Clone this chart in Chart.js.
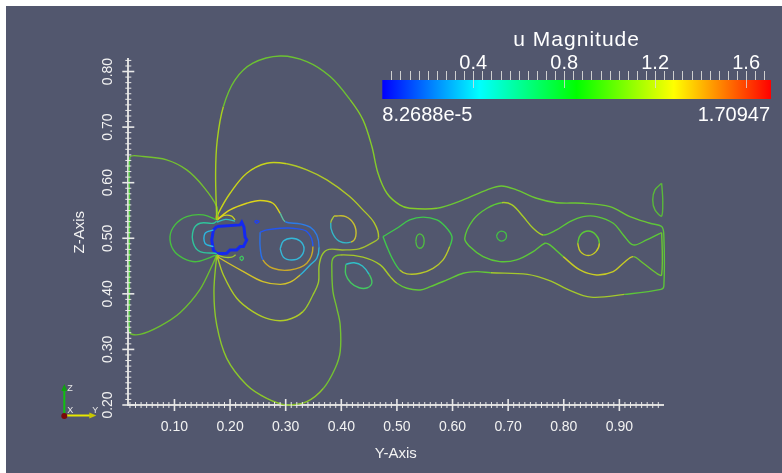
<!DOCTYPE html>
<html lang="en">
<head>
<meta charset="UTF-8" />
<title>u Magnitude contours</title>
<script src="https://cdn.jsdelivr.net/npm/chart.js@4.4.1/dist/chart.umd.min.js"></script>
<style>
  html, body { margin: 0; padding: 0; background: #ffffff; }
  #wrap { position: absolute; left: 6px; top: 6px; width: 776px; height: 467px; background: #52576e; }
</style>
</head>
<body>
<div id="wrap"><canvas id="myChart" width="776" height="467"></canvas></div>
<script>
// contour lines as [Y, Z] pairs
const bigLoop = [[0.176,0.533],[0.174,0.617],[0.177,0.677],[0.188,0.737],[0.209,0.785],[0.241,0.815],[0.290,0.828],[0.338,0.818],[0.380,0.791],[0.416,0.749],[0.439,0.713],[0.455,0.665],[0.466,0.617],[0.482,0.581],[0.505,0.560],[0.523,0.554],[0.572,0.554],[0.619,0.569],[0.662,0.587],[0.688,0.594],[0.715,0.587],[0.751,0.572],[0.787,0.564],[0.835,0.563],[0.883,0.557],[0.919,0.539],[0.955,0.527],[0.976,0.521],[0.980,0.504],[0.980,0.414],[0.975,0.408],[0.909,0.399],[0.849,0.394],[0.807,0.408],[0.777,0.423],[0.735,0.435],[0.669,0.438],[0.644,0.440],[0.619,0.437],[0.590,0.425],[0.560,0.413],[0.542,0.407],[0.518,0.410],[0.500,0.419],[0.488,0.431],[0.470,0.452],[0.439,0.466],[0.398,0.470],[0.385,0.464],[0.383,0.446],[0.385,0.404],[0.392,0.374],[0.398,0.344],[0.398,0.296],[0.389,0.266],[0.368,0.230],[0.338,0.206],[0.302,0.200],[0.266,0.212],[0.230,0.236],[0.194,0.284],[0.176,0.344],[0.171,0.404],[0.176,0.470]];
const axisLoop = [[0.176,0.533],[0.176,0.557],[0.152,0.593],[0.122,0.623],[0.086,0.641],[0.044,0.647],[0.020,0.646],[0.019,0.569],[0.019,0.389],[0.020,0.330],[0.038,0.327],[0.074,0.342],[0.110,0.366],[0.146,0.408],[0.170,0.456],[0.176,0.470]];
const secondLoop = [[0.176,0.533],[0.179,0.545],[0.200,0.581],[0.230,0.617],[0.266,0.635],[0.302,0.634],[0.338,0.623],[0.374,0.605],[0.414,0.576],[0.438,0.552],[0.459,0.528],[0.467,0.501],[0.456,0.492],[0.432,0.481],[0.402,0.479],[0.378,0.480],[0.366,0.471],[0.360,0.450],[0.359,0.421],[0.349,0.398],[0.331,0.368],[0.302,0.353],[0.272,0.354],[0.241,0.368],[0.212,0.392],[0.188,0.434],[0.176,0.470]];
const bubbleOuter = [[0.176,0.533],[0.200,0.551],[0.230,0.563],[0.254,0.568],[0.277,0.563],[0.290,0.545],[0.299,0.530],[0.326,0.526],[0.344,0.520],[0.356,0.506],[0.360,0.484],[0.356,0.464],[0.344,0.452],[0.326,0.434],[0.308,0.421],[0.290,0.417],[0.259,0.422],[0.224,0.440],[0.182,0.464],[0.176,0.470]];
const bubbleInner = [[0.254,0.511],[0.266,0.515],[0.290,0.518],[0.313,0.518],[0.338,0.512],[0.349,0.485],[0.338,0.455],[0.308,0.443],[0.277,0.446],[0.259,0.461],[0.254,0.485],[0.254,0.511]];
const bubbleCore = [[0.290,0.481],[0.296,0.495],[0.311,0.500],[0.326,0.495],[0.333,0.481],[0.326,0.466],[0.311,0.461],[0.296,0.466],[0.290,0.481]];
const leftOuter = [[0.176,0.533],[0.152,0.542],[0.122,0.539],[0.101,0.524],[0.092,0.503],[0.098,0.479],[0.116,0.464],[0.140,0.458],[0.176,0.470]];
const leftMid = [[0.176,0.531],[0.170,0.527],[0.146,0.527],[0.134,0.515],[0.134,0.491],[0.146,0.476],[0.173,0.473],[0.176,0.472]];
const leftInner = [[0.170,0.515],[0.155,0.509],[0.155,0.491],[0.170,0.485]];
const cylinder = [[0.176,0.521],[0.218,0.524],[0.221,0.529],[0.225,0.520],[0.227,0.502],[0.230,0.497],[0.224,0.485],[0.218,0.485],[0.212,0.479],[0.200,0.479],[0.194,0.473],[0.176,0.472],[0.170,0.479],[0.167,0.497],[0.170,0.515],[0.176,0.521]];
const ovalUpper = [[0.387,0.540],[0.408,0.539],[0.423,0.525],[0.426,0.504],[0.417,0.493],[0.396,0.495],[0.384,0.510],[0.381,0.528],[0.387,0.540]];
const ovalLower = [[0.408,0.453],[0.423,0.456],[0.438,0.450],[0.450,0.435],[0.455,0.420],[0.447,0.411],[0.432,0.411],[0.417,0.420],[0.408,0.435],[0.408,0.453]];
const eyeLoop = [[0.475,0.503],[0.500,0.518],[0.523,0.533],[0.547,0.538],[0.572,0.533],[0.587,0.521],[0.599,0.503],[0.595,0.485],[0.583,0.461],[0.565,0.446],[0.542,0.437],[0.518,0.436],[0.505,0.443],[0.493,0.461],[0.482,0.485],[0.475,0.503]];
const eyeCore1 = [[0.534,0.495],[0.536,0.504],[0.541,0.508],[0.547,0.504],[0.549,0.495],[0.547,0.486],[0.541,0.482],[0.536,0.486],[0.534,0.495]];
const eyeChain = [[0.973,0.509],[0.949,0.497],[0.925,0.488],[0.907,0.506],[0.889,0.527],[0.859,0.539],[0.835,0.539],[0.811,0.530],[0.787,0.515],[0.763,0.506],[0.745,0.518],[0.727,0.539],[0.707,0.560],[0.688,0.564],[0.662,0.554],[0.637,0.533],[0.622,0.500],[0.631,0.485],[0.655,0.467],[0.685,0.458],[0.715,0.461],[0.745,0.476],[0.766,0.491],[0.775,0.488],[0.799,0.467],[0.829,0.443],[0.859,0.434],[0.889,0.440],[0.907,0.455],[0.925,0.467],[0.943,0.455],[0.967,0.437],[0.976,0.434],[0.976,0.509],[0.973,0.509]];
const eyeCore2 = [[0.679,0.504],[0.682,0.510],[0.688,0.513],[0.695,0.510],[0.697,0.504],[0.695,0.498],[0.688,0.495],[0.682,0.498],[0.679,0.504]];
const eyeCore3 = [[0.825,0.491],[0.830,0.506],[0.844,0.513],[0.858,0.506],[0.864,0.491],[0.858,0.476],[0.844,0.469],[0.830,0.476],[0.825,0.491]];
const edgeLobe = [[0.976,0.599],[0.964,0.587],[0.960,0.569],[0.964,0.551],[0.976,0.540],[0.978,0.569],[0.976,0.599]];
const blueSpeck = [[0.244,0.530],[0.248,0.532],[0.252,0.530],[0.248,0.527],[0.244,0.530]];
const greenSpeck = [[0.217,0.464],[0.221,0.468],[0.224,0.464],[0.221,0.460],[0.217,0.464]];
const topArcA = [[0.176,0.533],[0.189,0.541],[0.203,0.540],[0.209,0.533]];
const topArcB = [[0.176,0.529],[0.192,0.534],[0.209,0.531]];
const bottomArc = [[0.176,0.470],[0.189,0.466],[0.203,0.466],[0.210,0.470]];
const hotTop = [[0.176,0.533],[0.177,0.541]];
const hotBottom = [[0.176,0.470],[0.177,0.462]];

// axis ticks
const yAxisMajor = [0.10, 0.20, 0.30, 0.40, 0.50, 0.60, 0.70, 0.80, 0.90];
const zAxisMajor = [0.20, 0.30, 0.40, 0.50, 0.60, 0.70, 0.80];
const yRange = [0.017, 0.979];
const zRange = [0.20, 0.822];

// colour legend
const cbTitle = "u Magnitude";
const cbMin = 8.2688e-5;
const cbMax = 1.70947;
const cbTicks = [0.4, 0.8, 1.2, 1.6];
const cbMinLabel = "8.2688e-5";
const cbMaxLabel = "1.70947";

// styles: [fromPointIndex, colour] stops, width, tension
const styles = [
  [bigLoop, [[0,'#a8d01e'],[3,'#6cc232'],[9,'#84cc2a'],[16,'#6cc834'],[26,'#5cc43a'],[31,'#a4c82c'],[36,'#62c838'],[43,'#a6c82a'],[47,'#74c232'],[55,'#8cc82a']], 1.4, 0.35],
  [axisLoop, [[0,'#74c030'],[6,'#52cc3c'],[9,'#6cbe30']], 1.4, 0.3],
  [secondLoop, [[0,'#c8d41a'],[5,'#b0c828'],[11,'#a4c030'],[15,'#9cc82c'],[20,'#b0cc26']], 1.4, 0.35],
  [bubbleOuter, [[0,'#dcd41a'],[5,'#5cc0a0'],[6,'#2c7ce8'],[10,'#30b4d8'],[13,'#d2c22a']], 1.4, 0.35],
  [bubbleInner, [[0,'#2456f0'],[5,'#c8a82a'],[9,'#2a70e8']], 1.4, 0.35],
  [bubbleCore, [[0,'#34b8d8']], 1.4, 0.4],
  [leftOuter, [[0,'#48c040']], 1.4, 0.35],
  [leftMid, [[0,'#30c49c']], 1.4, 0.35],
  [leftInner, [[0,'#2cb8e0']], 1.4, 0.35],
  [ovalUpper, [[0,'#c8c030'],[4,'#34b8c8'],[7,'#a8c83a']], 1.4, 0.4],
  [ovalLower, [[0,'#30c0c8'],[3,'#44c860']], 1.4, 0.4],
  [eyeLoop, [[0,'#40c84c'],[7,'#b8c82a'],[12,'#40c84c']], 1.4, 0.35],
  [eyeCore1, [[0,'#50c040']], 1.3, 0.4],
  [eyeChain, [[0,'#5cc838'],[9,'#a8cc28'],[13,'#5cc838'],[24,'#c8cc24'],[29,'#6cc434']], 1.4, 0.35],
  [eyeCore2, [[0,'#44c044']], 1.3, 0.4],
  [eyeCore3, [[0,'#5cc838'],[4,'#c8cc24']], 1.4, 0.4],
  [edgeLobe, [[0,'#5ab83a']], 1.4, 0.3],
  [blueSpeck, [[0,'#2040f0']], 1.3, 0.3],
  [greenSpeck, [[0,'#40c860']], 1.3, 0.3],
  [topArcA, [[0,'#c8d020']], 1.3, 0.3],
  [topArcB, [[0,'#30c0c0']], 1.3, 0.3],
  [bottomArc, [[0,'#a0c830']], 1.3, 0.3],
  [cylinder, [[0,'#1428f0']], 3, 0],
  [hotTop, [[0,'#ff8a10']], 3, 0],
  [hotBottom, [[0,'#ff5a10']], 3, 0]
];

function colorAt(stops, i) {
  let c = stops[0][1];
  for (const [k, col] of stops) if (i >= k) c = col;
  return c;
}

const datasets = styles.map(([pts, stops, width, tension]) => ({
  data: pts.map(p => ({ x: p[0], y: p[1] })),
  showLine: true,
  pointRadius: 0,
  borderWidth: width,
  borderColor: stops[0][1],
  segment: { borderColor: c => colorAt(stops, c.p0DataIndex) },
  tension: tension,
  clip: false
}));

const isMajor = v => Math.round(v * 100) % 10 === 0;
const yTickValues = [];
for (let k = 2; k <= 97; k++) yTickValues.push(k / 100);
const zTickValues = [];
for (let k = 20; k <= 82; k++) zTickValues.push(k / 100);

const axisFont = { family: "'Liberation Sans', Arial, sans-serif", size: 14 };
const titleFont = { family: "'Liberation Sans', Arial, sans-serif", size: 15 };

// tick marks that cross the axis line, the way the reference draws them
const tickMarks = {
  id: 'tickMarks',
  afterDraw(chart) {
    const { ctx, chartArea, scales: { x, y } } = chart;
    ctx.save();
    ctx.strokeStyle = '#e8e8e8';
    x.ticks.forEach(t => {
      const px = x.getPixelForValue(t.value);
      const h = isMajor(t.value) ? 6 : 3;
      ctx.lineWidth = isMajor(t.value) ? 1.6 : 1;
      ctx.beginPath();
      ctx.moveTo(px, chartArea.bottom - h);
      ctx.lineTo(px, chartArea.bottom + h);
      ctx.stroke();
    });
    y.ticks.forEach(t => {
      const py = y.getPixelForValue(t.value);
      const h = isMajor(t.value) ? 6 : 3;
      ctx.lineWidth = isMajor(t.value) ? 1.6 : 1;
      ctx.beginPath();
      ctx.moveTo(chartArea.left - h, py);
      ctx.lineTo(chartArea.left + h, py);
      ctx.stroke();
    });
    ctx.restore();
  }
};

const colorBar = {
  id: 'colorBar',
  afterDraw(chart) {
    const ctx = chart.ctx;
    const bx = 376.3, bw = 388.7, by = 74, bh = 19;
    const toX = v => bx + (v - cbMin) / (cbMax - cbMin) * bw;
    ctx.save();
    const g = ctx.createLinearGradient(bx, 0, bx + bw, 0);
    g.addColorStop(0, '#0000ff');
    g.addColorStop(0.25, '#00ffff');
    g.addColorStop(0.5, '#00ff00');
    g.addColorStop(0.75, '#ffff00');
    g.addColorStop(1, '#ff0000');
    ctx.fillStyle = g;
    ctx.fillRect(bx, by, bw, bh);
    ctx.strokeStyle = '#cfcfcf';
    ctx.lineWidth = 1;
    for (let k = 1; k * 0.04 < cbMax; k++) {
      const px = Math.round(toX(k * 0.04)) + 0.5;
      ctx.beginPath();
      ctx.moveTo(px, by - 9);
      ctx.lineTo(px, by);
      ctx.stroke();
    }
    ctx.strokeStyle = 'rgba(220,220,220,0.8)';
    cbTicks.forEach(v => {
      const px = Math.round(toX(v)) + 0.5;
      ctx.beginPath();
      ctx.moveTo(px, by);
      ctx.lineTo(px, by + 8);
      ctx.stroke();
    });
    ctx.fillStyle = '#ffffff';
    ctx.font = "20px 'Liberation Sans', Arial, sans-serif";
    ctx.textBaseline = 'alphabetic';
    ctx.textAlign = 'center';
    cbTicks.forEach(v => ctx.fillText(String(v), toX(v), 63.3));
    ctx.textAlign = 'left';
    ctx.fillText(cbMinLabel, bx, 114.7);
    ctx.textAlign = 'right';
    ctx.fillText(cbMaxLabel, bx + bw - 1, 114.7);
    ctx.textAlign = 'center';
    ctx.font = "21px 'Liberation Sans', Arial, sans-serif";
    ctx.letterSpacing = '1px';
    ctx.fillText(cbTitle, bx + bw / 2, 39.7);
    ctx.restore();
  }
};

// small orientation triad in the lower-left corner
const orientGlyph = {
  id: 'orientGlyph',
  afterDraw(chart) {
    const ctx = chart.ctx;
    const ox = 58.3, oy = 410;
    ctx.save();
    ctx.lineWidth = 2;
    ctx.strokeStyle = '#10c010';
    ctx.fillStyle = '#10a010';
    ctx.beginPath(); ctx.moveTo(ox, oy); ctx.lineTo(ox, oy - 26); ctx.stroke();
    ctx.beginPath(); ctx.moveTo(ox - 3, oy - 25); ctx.lineTo(ox + 3, oy - 25); ctx.lineTo(ox, oy - 32); ctx.closePath(); ctx.fill();
    ctx.strokeStyle = '#e8e800';
    ctx.fillStyle = '#c8c800';
    ctx.beginPath(); ctx.moveTo(ox, oy - 0.5); ctx.lineTo(ox + 26, oy - 0.5); ctx.stroke();
    ctx.beginPath(); ctx.moveTo(ox + 25, oy - 3.5); ctx.lineTo(ox + 25, oy + 2.5); ctx.lineTo(ox + 32, oy - 0.5); ctx.closePath(); ctx.fill();
    ctx.fillStyle = '#7a0808';
    ctx.beginPath(); ctx.arc(ox, oy, 3, 0, Math.PI * 2); ctx.fill();
    ctx.font = "9px 'Liberation Sans', Arial, sans-serif";
    ctx.textBaseline = 'alphabetic';
    ctx.fillStyle = '#e8e8e8';
    ctx.fillText('Z', ox + 3, oy - 25);
    ctx.fillText('X', ox + 3, oy - 3);
    ctx.fillText('Y', ox + 28, oy - 3);
    ctx.restore();
  }
};

new Chart(document.getElementById('myChart').getContext('2d'), {
  type: 'scatter',
  data: { datasets },
  options: {
    responsive: false,
    animation: false,
    events: [],
    layout: { padding: { left: 60, right: 118.7, top: 53.3, bottom: 0 } },
    plugins: { legend: { display: false }, tooltip: { enabled: false } },
    scales: {
      x: {
        type: 'linear',
        min: yRange[0],
        max: yRange[1],
        afterBuildTicks: s => { s.ticks = yTickValues.map(v => ({ value: v })); },
        afterFit: s => { s.height = 68; },
        grid: { display: false, drawTicks: false },
        border: { display: true, color: '#dcdcdc', width: 2 },
        ticks: {
          autoSkip: false, maxRotation: 0, minRotation: 0, padding: 14,
          color: '#f2f2f2', font: axisFont,
          callback: v => yAxisMajor.some(m => Math.abs(m - v) < 1e-6) ? v.toFixed(2) : ''
        },
        title: { display: true, text: 'Y-Axis', color: '#f2f2f2', font: titleFont, padding: { top: 0, bottom: 10 } }
      },
      y: {
        type: 'linear',
        min: zRange[0],
        max: zRange[1],
        afterBuildTicks: s => { s.ticks = zTickValues.map(v => ({ value: v })); },
        afterFit: s => { s.width = 62.3; },
        grid: { display: false, drawTicks: false },
        border: { display: true, color: '#dcdcdc', width: 2 },
        ticks: {
          autoSkip: false, minRotation: 90, maxRotation: 90, padding: 6.4, crossAlign: 'center',
          color: '#f2f2f2', font: axisFont,
          callback: v => zAxisMajor.some(m => Math.abs(m - v) < 1e-6) ? v.toFixed(2) : ''
        },
        title: { display: true, text: 'Z-Axis', color: '#f2f2f2', font: titleFont, padding: { top: 5, bottom: 0 } }
      }
    }
  },
  plugins: [tickMarks, colorBar, orientGlyph]
});
</script>
</body>
</html>
